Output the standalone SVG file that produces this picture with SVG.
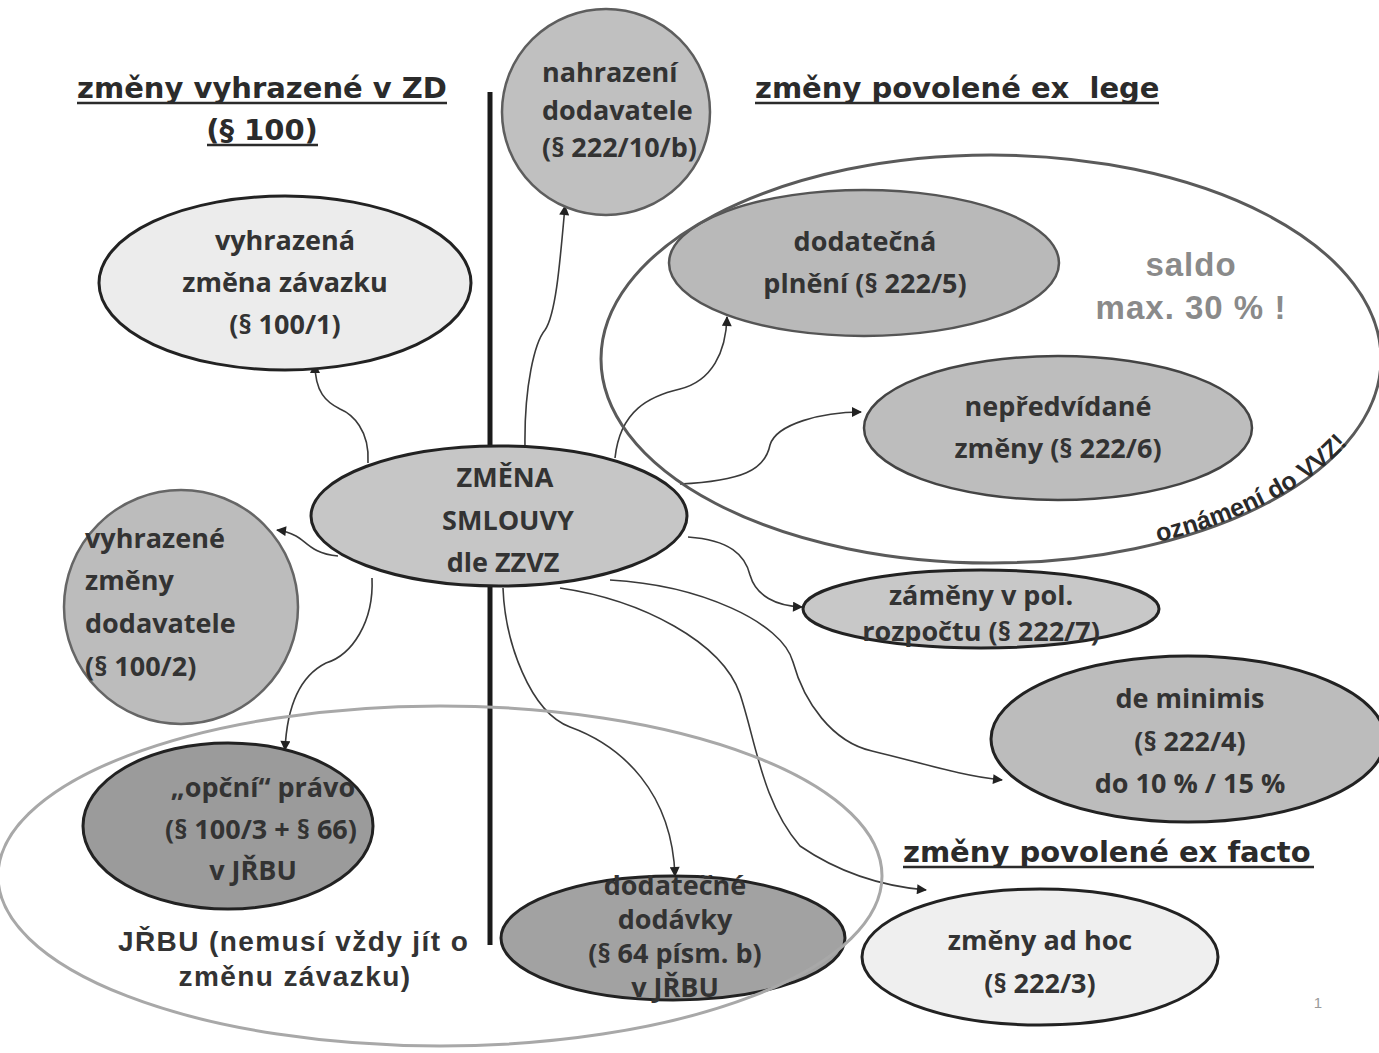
<svg xmlns="http://www.w3.org/2000/svg" width="1379" height="1053" viewBox="0 0 1379 1053">
<style>
.hd{font-family:"DejaVu Sans",sans-serif;font-weight:bold;font-size:29px;fill:#2b2b2b;white-space:pre}
.ul{stroke:#2b2b2b;stroke-width:2.5}
.nt{font-family:"Open Sans","Liberation Sans",sans-serif;font-weight:bold;font-size:27px;fill:#333}
.c{text-anchor:middle}
.cn{fill:none;stroke:#3a3a3a;stroke-width:1.6}
.grp{font-family:"Liberation Sans",sans-serif;font-weight:bold;fill:#333}
</style>
<defs>
<marker id="ah" viewBox="0 0 10 10" refX="9" refY="5" markerWidth="11" markerHeight="10" markerUnits="userSpaceOnUse" orient="auto">
<path d="M0,0 L10,5 L0,10 z" fill="#222"/>
</marker>
<path id="vvzPath" d="M1158,542 A388,202 0 0 0 1376,318"/>
</defs>
<rect width="1379" height="1053" fill="#fff"/>

<line id="divider" x1="490" y1="92" x2="490" y2="945" stroke="#1a1a1a" stroke-width="5"/>

<g id="headings">
<text class="hd c" x="262" y="98">změny vyhrazené v ZD</text>
<line class="ul" x1="77" y1="103" x2="447" y2="103"/>
<text class="hd c" x="262" y="140">(§ 100)</text>
<line class="ul" x1="207" y1="145" x2="318" y2="145"/>
<text class="hd" x="755" y="98" xml:space="preserve">změny povolené ex  lege</text>
<line class="ul" x1="755" y1="103" x2="1159" y2="103"/>
<text class="hd" x="903" y="862">změny povolené ex facto</text>
<line class="ul" x1="903" y1="867" x2="1314" y2="867"/>
</g>

<g id="connectors">
<path class="cn" marker-end="url(#ah)" d="M368,463 C370,430 352,414 340,409 C326,402 315,392 315,364"/>
<path class="cn" marker-end="url(#ah)" d="M338,556 C312,554 306,541 296,536 C290,533 285,531 277,530"/>
<path class="cn" marker-end="url(#ah)" d="M372,578 C374,622 352,655 326,663 C300,676 287,705 285,750"/>
<path class="cn" marker-end="url(#ah)" d="M525,448 C524,385 535,342 545,330 C556,314 560,262 565,206"/>
<path class="cn" marker-end="url(#ah)" d="M615,458 C620,410 650,396 680,389 C712,381 726,352 727,317"/>
<path class="cn" marker-end="url(#ah)" d="M680,484 C742,481 765,470 770,445 C776,424 822,412 861,412"/>
<path class="cn" marker-end="url(#ah)" d="M688,537 C730,540 745,555 750,575 C756,596 776,606 802,607"/>
<path class="cn" marker-end="url(#ah)" d="M610,580 C700,585 782,622 793,662 C804,702 832,742 872,751 C922,763 962,776 1002,780"/>
<path class="cn" marker-end="url(#ah)" d="M560,588 C642,600 722,642 740,694 C756,742 762,802 800,846 C838,872 880,886 926,890"/>
<path class="cn" marker-end="url(#ah)" d="M503,588 C505,642 530,712 570,727 C622,746 672,792 675,876"/>
</g>

<g id="node-nahrazeni">
<ellipse cx="606" cy="112" rx="104" ry="103" fill="#c0c0c0" stroke="#5e5e5e" stroke-width="2.5"/>
<text class="nt" x="542" y="82" font-size="25">nahrazení</text>
<text class="nt" x="542" y="120" font-size="25">dodavatele</text>
<text class="nt" x="542" y="157" font-size="25">(§ 222/10/b)</text>
</g>

<g id="node-vyhrazena">
<ellipse cx="285" cy="283" rx="186" ry="87" fill="#ececec" stroke="#222" stroke-width="3"/>
<text class="nt c" x="285" y="250">vyhrazená</text>
<text class="nt c" x="285" y="292">změna závazku</text>
<text class="nt c" x="285" y="334">(§ 100/1)</text>
</g>

<g id="node-zmena">
<ellipse cx="499" cy="516" rx="188" ry="70" fill="#c6c6c6" stroke="#222" stroke-width="3"/>
<text class="nt c" x="505" y="487">ZMĚNA</text>
<text class="nt c" x="508" y="530">SMLOUVY</text>
<text class="nt c" x="503" y="572">dle ZZVZ</text>
</g>

<g id="node-dodavatele">
<ellipse cx="181" cy="607" rx="117" ry="117" fill="#bcbcbc" stroke="#666" stroke-width="2.5"/>
<text class="nt" x="85" y="548">vyhrazené</text>
<text class="nt" x="85" y="590">změny</text>
<text class="nt" x="85" y="633">dodavatele</text>
<text class="nt" x="85" y="676">(§ 100/2)</text>
</g>

<g id="node-opcni">
<ellipse cx="228" cy="826" rx="145" ry="83" fill="#9b9b9b" stroke="#222" stroke-width="3"/>
<text class="nt c" x="263" y="797">„opční“ právo</text>
<text class="nt c" x="261" y="839">(§ 100/3 + § 66)</text>
<text class="nt c" x="253" y="880">v JŘBU</text>
</g>

<g id="node-dodavky">
<ellipse cx="673" cy="938" rx="172" ry="62" fill="#a2a2a2" stroke="#222" stroke-width="3"/>
<text class="nt c" x="675" y="895" font-size="19">dodatečné</text>
<text class="nt c" x="675" y="929" font-size="19">dodávky</text>
<text class="nt c" x="675" y="963" font-size="19">(§ 64 písm. b)</text>
<text class="nt c" x="675" y="997" font-size="19">v JŘBU</text>
</g>

<g id="node-plneni">
<ellipse cx="864" cy="263" rx="195" ry="73" fill="#b9b9b9" stroke="#555" stroke-width="2.5"/>
<text class="nt c" x="865" y="251">dodatečná</text>
<text class="nt c" x="865" y="293">plnění (§ 222/5)</text>
</g>

<g id="node-nepredvidane">
<ellipse cx="1058" cy="428" rx="194" ry="72" fill="#bdbdbd" stroke="#444" stroke-width="2.5"/>
<text class="nt c" x="1058" y="416">nepředvídané</text>
<text class="nt c" x="1058" y="458">změny (§ 222/6)</text>
</g>

<g id="node-zameny">
<ellipse cx="981" cy="609" rx="178" ry="39" fill="#c8c8c8" stroke="#222" stroke-width="3"/>
<text class="nt c" x="981" y="605" font-size="23">záměny v pol.</text>
<text class="nt c" x="981" y="641" font-size="23">rozpočtu (§ 222/7)</text>
</g>

<g id="node-deminimis">
<ellipse cx="1188" cy="739" rx="197" ry="83" fill="#bcbcbc" stroke="#222" stroke-width="3"/>
<text class="nt c" x="1190" y="708">de minimis</text>
<text class="nt c" x="1190" y="751">(§ 222/4)</text>
<text class="nt c" x="1190" y="793">do 10 % / 15 %</text>
</g>

<g id="node-adhoc">
<ellipse cx="1040" cy="957" rx="178" ry="68" fill="#efefef" stroke="#222" stroke-width="3"/>
<text class="nt c" x="1040" y="950">změny ad hoc</text>
<text class="nt c" x="1040" y="993">(§ 222/3)</text>
</g>

<g id="group-saldo">
<ellipse cx="991" cy="359" rx="390" ry="204" fill="none" stroke="#5a5a5a" stroke-width="3"/>
<text class="grp c" x="1191" y="276" font-size="33" letter-spacing="1" style="fill:#8a8a8a">saldo</text>
<text class="grp c" x="1191" y="319" font-size="33" letter-spacing="1" style="fill:#8a8a8a">max. 30 % !</text>
<text class="grp" font-size="25" style="fill:#2a2a2a"><textPath href="#vvzPath">oznámení do VVZ!</textPath></text>
</g>

<g id="group-jrbu">
<ellipse cx="440" cy="876" rx="442" ry="170" fill="none" stroke="#a8a8a8" stroke-width="3"/>
<text class="grp" x="118" y="951" font-size="28" letter-spacing="1.4">JŘBU (nemusí vždy jít o</text>
<text class="grp c" x="295" y="986" font-size="28" letter-spacing="1.4">změnu závazku)</text>
</g>

<text id="page-number" x="1318" y="1008" font-family="Liberation Sans, sans-serif" font-size="15" fill="#9a9a9a" text-anchor="middle">1</text>
</svg>
